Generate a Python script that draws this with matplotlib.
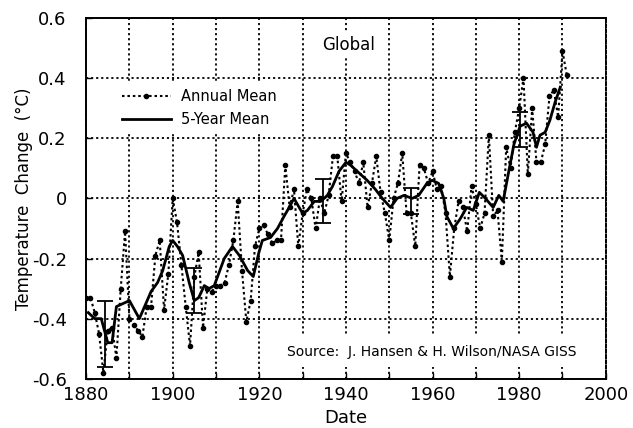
import numpy as np
import matplotlib
matplotlib.use("Agg")
import matplotlib.pyplot as plt
from matplotlib.lines import Line2D

plt.rcParams['font.family'] = ['DejaVu Sans']
plt.rcParams['axes.unicode_minus'] = False

# annual mean temperature change, 1880-1991
years = list(range(1880, 1992))
annual = [
    -0.33, -0.33, -0.38, -0.45, -0.58, -0.44, -0.43, -0.53, -0.30, -0.11,
    -0.40, -0.42, -0.44, -0.46, -0.36, -0.36, -0.19, -0.14, -0.37, -0.25,
    0.00, -0.08, -0.22, -0.36, -0.49, -0.26, -0.18, -0.43, -0.30, -0.31,
    -0.29, -0.29, -0.28, -0.22, -0.14, -0.01, -0.24, -0.41, -0.34, -0.16,
    -0.10, -0.09, -0.12, -0.15, -0.14, -0.14, 0.11, -0.03, 0.03, -0.16,
    -0.05, 0.03, 0.00, -0.10, 0.00, -0.05, 0.01, 0.14, 0.14, -0.01,
    0.15, 0.12, 0.09, 0.05, 0.12, -0.03, 0.05, 0.14, 0.02, -0.05,
    -0.14, 0.00, 0.05, 0.15, -0.05, -0.05, -0.16, 0.11, 0.10, 0.05,
    0.09, 0.03, 0.04, -0.05, -0.26, -0.10, -0.01, -0.03, -0.11, 0.04,
    -0.02, -0.10, -0.05, 0.21, -0.06, -0.04, -0.21, 0.17, 0.10, 0.22,
    0.30, 0.40, 0.08, 0.30, 0.12, 0.12, 0.18, 0.34, 0.36, 0.27,
    0.49, 0.41,
]

# 5-year running mean
five_years = [
    1880.5, 1882, 1883.5, 1885, 1886, 1887, 1888.5, 1890, 1892.3, 1895,
    1896.5, 1897.7, 1899.2, 1900, 1901.1, 1902.3, 1903.8, 1905, 1906, 1907.3,
    1908.4, 1909.6, 1911.9, 1913.8, 1915.4, 1917.3, 1918.6, 1919.9, 1920.7, 1922.6,
    1924.2, 1925.7, 1926.9, 1928, 1929.2, 1930, 1931.1, 1932.7, 1934.2, 1935.7,
    1936.9, 1938.4, 1940, 1941.1, 1942.6, 1944.9, 1946.8, 1948.4, 1950.3, 1951.8,
    1953.4, 1955.3, 1956.8, 1958.7, 1959.9, 1961.4, 1962.6, 1963.3, 1964.8, 1966.3,
    1967.9, 1969.4, 1970.8, 1972.2, 1974, 1975.3, 1976.3, 1977.6, 1978.8, 1980.2,
    1981.7, 1983.2, 1984, 1984.8, 1986, 1987.1, 1988.3, 1989.5,
]
five_mean = [
    -0.38, -0.40, -0.40, -0.48, -0.48, -0.36, -0.35, -0.34, -0.40, -0.31,
    -0.28, -0.24, -0.16, -0.14, -0.16, -0.19, -0.28, -0.34, -0.33, -0.29,
    -0.30, -0.29, -0.20, -0.16, -0.19, -0.24, -0.26, -0.18, -0.14, -0.13,
    -0.10, -0.06, -0.03, 0.00, -0.03, -0.05, -0.04, -0.01, -0.01, 0.01,
    0.04, 0.09, 0.12, 0.11, 0.09, 0.06, 0.03, 0.00, -0.03, 0.00,
    0.01, 0.00, 0.01, 0.05, 0.06, 0.05, 0.00, -0.06, -0.10, -0.07,
    -0.03, -0.04, 0.02, 0.00, -0.03, 0.01, -0.01, 0.09, 0.18, 0.24,
    0.25, 0.22, 0.17, 0.21, 0.22, 0.26, 0.32, 0.37,
]

# error bars on the 5-year mean
err_years = [1884.4, 1905, 1934.6, 1955, 1980.3]
err_center = [-0.45, -0.305, -0.008, -0.008, 0.228]
err_half = [0.11, 0.075, 0.073, 0.043, 0.058]

fig = plt.figure(figsize=(6.33, 4.28), dpi=100)
ax = fig.add_axes([0.136, 0.115, 0.821, 0.843])

ax.set_xlim(1880, 2000)
ax.set_ylim(-0.6, 0.6)

xt = np.arange(1880, 2001, 20)
ax.set_xticks(xt)
ax.set_xticks(np.arange(1890, 2000, 20), minor=True)
yt = [-0.6, -0.4, -0.2, 0, 0.2, 0.4, 0.6]
ax.set_yticks(yt)
ax.set_yticklabels(["-0.6", "-0.4", "-0.2", "0", "0.2", "0.4", "0.6"])
ax.tick_params(axis='both', which='both', direction='in', length=4, labelsize=13, width=1)
ax.tick_params(axis='x', pad=5)
ax.tick_params(axis='y', pad=14)

ax.grid(True, which='both', color='black', linestyle=(0, (1.2, 1.6)), linewidth=1.3)
ax.set_axisbelow(True)

ax.plot(years, annual, color='black', linestyle=(0, (1.2, 1.4)), linewidth=1.5,
        marker='o', markersize=3, zorder=3)
ax.plot(five_years, five_mean, color='black', linewidth=2, zorder=4)
ax.errorbar(err_years, err_center, yerr=err_half, fmt='none', ecolor='black',
            elinewidth=1.3, capsize=6, capthick=1.3, zorder=4)

for s in ['left', 'bottom', 'top']:
    ax.spines[s].set_linewidth(1.4)
ax.spines['right'].set_linestyle((0, (1.5, 1.2)))
ax.spines['right'].set_linewidth(1.4)

ax.set_xlabel("Date", fontsize=13)
ax.xaxis.set_label_coords(0.5, -0.083)
ax.set_ylabel("Temperature  Change  (°C)", fontsize=12)
ax.yaxis.set_label_coords(-0.103, 0.5)

ax.text(1940.5, 0.51, "Global", fontsize=12, ha='center', va='center',
        bbox=dict(facecolor='white', edgecolor='none', pad=3), zorder=5)
ax.text(1926.3, -0.51, "Source:  J. Hansen & H. Wilson/NASA GISS", fontsize=10,
        ha='left', va='center',
        bbox=dict(facecolor='white', edgecolor='none', pad=6), zorder=5)

handles = [
    Line2D([], [], color='black', linestyle=(0, (1.2, 1.4)), linewidth=1.5,
           marker='o', markersize=3, markevery=[1]),
    Line2D([], [], color='black', linewidth=2),
]
leg = ax.legend(handles, ["Annual Mean", "5-Year Mean"], loc='upper left',
                bbox_to_anchor=(0.043, 0.84), frameon=True, fontsize=10.5,
                handlelength=3.4, handletextpad=0.7, labelspacing=0.55,
                borderpad=0.4, fancybox=False)
leg.get_frame().set_edgecolor('none')
leg.get_frame().set_facecolor('white')
leg.get_frame().set_alpha(1)
leg.set_zorder(6)

fig.savefig("out.png", dpi=100)
